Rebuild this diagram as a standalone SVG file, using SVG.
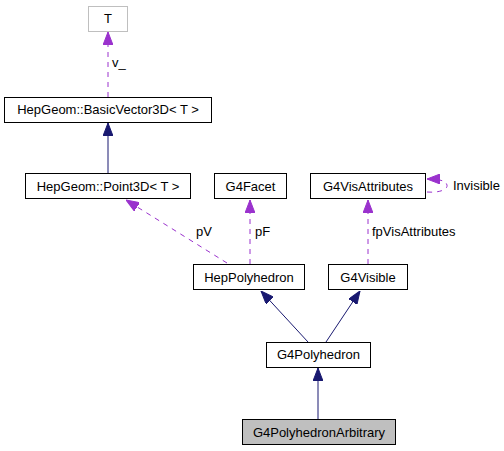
<svg xmlns="http://www.w3.org/2000/svg" width="504" height="451" viewBox="0 0 504 451">
<style>
.box{fill:#ffffff;stroke:#000000;stroke-width:1}
.gray{fill:#ffffff;stroke:#bfbfbf;stroke-width:1}
.sel{fill:#bfbfbf;stroke:#000000;stroke-width:1}
text{font-family:"Liberation Sans",Arial,sans-serif;font-size:13px;fill:#000000}
.n{text-anchor:middle}
.inh{fill:none;stroke:#191970;stroke-width:1}
.use{fill:none;stroke:#9a32cd;stroke-width:1;stroke-dasharray:5,5}
</style>
<defs>
<marker id="ah" viewBox="0 0 13 10" refX="13" refY="5" markerWidth="13" markerHeight="10" markerUnits="userSpaceOnUse" orient="auto"><path d="M0,0 L13,5 L0,10 z" fill="#191970" stroke="#191970"/></marker>
<marker id="ap" viewBox="0 0 13 10" refX="13" refY="5" markerWidth="13" markerHeight="10" markerUnits="userSpaceOnUse" orient="auto"><path d="M0,0 L13,5 L0,10 z" fill="#9a32cd" stroke="#9a32cd"/></marker>
</defs>
<g id="connectors">
<path class="use" d="M108,97 L108,32" marker-end="url(#ap)"/>
<text x="112" y="67">v_</text>
<path class="inh" d="M108,173 L108,123" marker-end="url(#ah)"/>
<path class="use" d="M227,263 L126,200" marker-end="url(#ap)"/>
<text x="196" y="236">pV</text>
<path class="use" d="M250,264 L250,200" marker-end="url(#ap)"/>
<text x="255" y="236">pF</text>
<path class="use" d="M368,264 L368,200" marker-end="url(#ap)"/>
<text x="372" y="236">fpVisAttributes</text>
<path class="use" d="M427,192 C438,193 448,190 447,185 C446,181 440,179 427,179" marker-end="url(#ap)"/>
<text x="453" y="190">Invisible</text>
<path class="inh" d="M308,342 L261,291" marker-end="url(#ah)"/>
<path class="inh" d="M326,342 L360,291" marker-end="url(#ah)"/>
<path class="inh" d="M318,419 L318,368" marker-end="url(#ah)"/>
</g>
<g id="T"><rect class="gray" x="88.5" y="6.5" width="39" height="25"/><text class="n" x="108" y="23">T</text></g>
<g id="BasicVector3D"><rect class="box" x="4.5" y="97.5" width="207" height="25"/><text class="n" x="108" y="114">HepGeom::BasicVector3D&lt; T &gt;</text></g>
<g id="Point3D"><rect class="box" x="25.5" y="173.5" width="165" height="25"/><text class="n" x="108" y="191">HepGeom::Point3D&lt; T &gt;</text></g>
<g id="G4Facet"><rect class="box" x="214.5" y="173.5" width="72" height="25"/><text class="n" x="250.5" y="191">G4Facet</text></g>
<g id="G4VisAttributes"><rect class="box" x="310.5" y="173.5" width="115" height="25"/><text class="n" x="368" y="191">G4VisAttributes</text></g>
<g id="HepPolyhedron"><rect class="box" x="193.5" y="264.5" width="111" height="25"/><text class="n" x="249" y="282">HepPolyhedron</text></g>
<g id="G4Visible"><rect class="box" x="328.5" y="264.5" width="79" height="25"/><text class="n" x="368" y="282">G4Visible</text></g>
<g id="G4Polyhedron"><rect class="box" x="266.5" y="342.5" width="104" height="25"/><text class="n" x="318.5" y="359">G4Polyhedron</text></g>
<g id="G4PolyhedronArbitrary"><rect class="sel" x="242.5" y="419.5" width="153" height="25"/><text class="n" x="319" y="437">G4PolyhedronArbitrary</text></g>
</svg>
